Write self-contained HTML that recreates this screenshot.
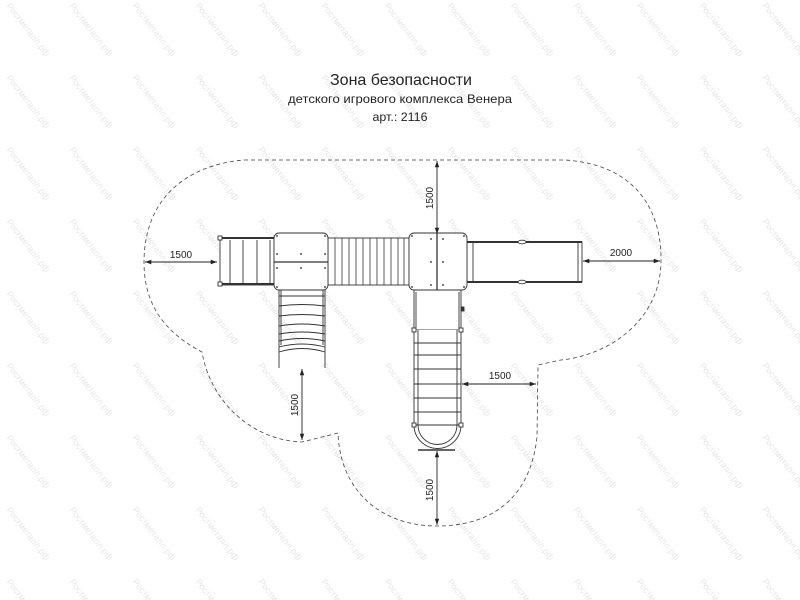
<!DOCTYPE html>
<html><head><meta charset="utf-8"><style>html,body{margin:0;padding:0;background:#fff}svg{display:block}</style></head>
<body>
<svg width="800" height="600" viewBox="0 0 800 600" xmlns="http://www.w3.org/2000/svg" font-family="Liberation Sans, DejaVu Sans, sans-serif">
<defs>
<pattern id="wm" x="0" y="0" width="63" height="72" patternUnits="userSpaceOnUse">
<text x="0" y="0" transform="translate(6,6) rotate(52)" font-size="9" fill="#e6e6e6">Ростметалл.рф</text>
</pattern>
<marker id="a" viewBox="0 0 10 10" refX="10" refY="5" markerWidth="7" markerHeight="7" orient="auto-start-reverse"><path d="M0,1.5 L10,5 L0,8.5 Z" fill="#222"/></marker>
</defs>
<rect width="800" height="600" fill="url(#wm)"/>
<g fill="#222" text-anchor="middle">
<text x="401" y="85" font-size="16" textLength="142" lengthAdjust="spacingAndGlyphs">Зона безопасности</text>
<text x="400" y="103" font-size="12" textLength="224" lengthAdjust="spacingAndGlyphs">детского игрового комплекса Венера</text>
<text x="400" y="121" font-size="12" textLength="55" lengthAdjust="spacingAndGlyphs">арт.: 2116</text>
</g>
<path d="M244,160 L565,160 C640,165 662,215 661,262 C660,320 610,355 561,360 L538,365 L537,437 C530,500 490,526 437,526 C380,526 340,490 338,433 L302,442 C250,440 210,400 202,352 C160,330 144,300 144,262 C144,200 185,165 244,160 Z" fill="none" stroke="#444" stroke-width="0.8" stroke-dasharray="4,3"/>
<g stroke="#333" stroke-width="0.9" fill="#fff">
<rect x="220" y="238" width="54" height="47" fill="#fff"/>
<line x1="220" y1="238" x2="274" y2="238" stroke-width="2"/>
<line x1="220" y1="284" x2="274" y2="284" stroke-width="2"/>
<line x1="230" y1="240" x2="230" y2="283"/><line x1="243" y1="240" x2="243" y2="283"/><line x1="257" y1="240" x2="257" y2="283"/><line x1="270" y1="240" x2="270" y2="283"/>
<rect x="218" y="236" width="4" height="4"/><rect x="218" y="282" width="4" height="4"/>
<rect x="328" y="238" width="81" height="47"/>
<g stroke-width="0.8">
<line x1="335" y1="238" x2="335" y2="285"/><line x1="342" y1="238" x2="342" y2="285"/><line x1="349" y1="238" x2="349" y2="285"/><line x1="356" y1="238" x2="356" y2="285"/><line x1="363" y1="238" x2="363" y2="285"/><line x1="370" y1="238" x2="370" y2="285"/><line x1="377" y1="238" x2="377" y2="285"/><line x1="384" y1="238" x2="384" y2="285"/><line x1="391" y1="238" x2="391" y2="285"/><line x1="398" y1="238" x2="398" y2="285"/><line x1="404" y1="238" x2="404" y2="285"/>
</g>
<rect x="467" y="242" width="115" height="40"/>
<line x1="467" y1="242" x2="582" y2="242" stroke-width="2"/>
<line x1="467" y1="282" x2="582" y2="282" stroke-width="2"/>
<line x1="473" y1="243" x2="473" y2="281"/>
<line x1="578" y1="243" x2="578" y2="281"/>
<ellipse cx="522" cy="242" rx="4" ry="1.8"/><ellipse cx="522" cy="282" rx="4" ry="1.8"/>
<line x1="279" y1="290" x2="279" y2="368"/><line x1="325" y1="290" x2="325" y2="368"/>
<line x1="281" y1="290" x2="281" y2="345"/><line x1="323" y1="290" x2="323" y2="345"/>
<g fill="none">
<path d="M279,296 L325,296"/><path d="M279,306 Q302,303 325,306"/><path d="M279,316 Q302,313 325,316"/><path d="M279,326 Q302,322 325,326"/><path d="M279,334 Q302,330 325,334"/><path d="M279,341 Q302,336 325,341"/><path d="M279,347 Q302,341 325,347"/><path d="M279,352 Q302,345 325,352"/>
</g>
<rect x="414" y="290" width="47" height="40"/>
<line x1="416" y1="292" x2="416" y2="328"/><line x1="459" y1="292" x2="459" y2="328"/>
<rect x="461" y="307" width="3" height="4" fill="#333"/>
<path d="M414,330 L414,425 A23.5,23.5 0 0 0 461,425 L461,330" />
<line x1="418" y1="330" x2="418" y2="425"/><line x1="457" y1="330" x2="457" y2="425"/>
<g><line x1="414" y1="343" x2="461" y2="343"/><line x1="414" y1="355" x2="461" y2="355"/><line x1="414" y1="369" x2="461" y2="369"/><line x1="414" y1="384" x2="461" y2="384"/><line x1="414" y1="398" x2="461" y2="398"/><line x1="414" y1="412" x2="461" y2="412"/><line x1="414" y1="425" x2="461" y2="425"/></g>
<path d="M418,425 A19.5,19.5 0 0 0 457,425" fill="none"/>
<line x1="418" y1="450" x2="455" y2="450" stroke-width="1.5"/>
<rect x="412" y="328" width="4" height="4"/><rect x="459" y="328" width="4" height="4"/>
<rect x="412" y="423" width="4" height="4"/><rect x="459" y="423" width="4" height="4"/>
<rect x="274" y="233" width="54" height="57" rx="5"/>
<line x1="274" y1="262" x2="328" y2="262" stroke-width="1.3"/>
<rect x="409" y="233" width="58" height="57" rx="5"/>
<line x1="437" y1="233" x2="437" y2="290" stroke-width="1.3"/>
</g>
<g fill="#555">
<circle cx="277" cy="236" r="1"/><circle cx="325" cy="236" r="1"/><circle cx="277" cy="254" r="1"/><circle cx="301" cy="254" r="1"/><circle cx="325" cy="254" r="1"/><circle cx="277" cy="268" r="1"/><circle cx="301" cy="268" r="1"/><circle cx="325" cy="268" r="1"/><circle cx="277" cy="287" r="1"/><circle cx="325" cy="287" r="1"/>
<circle cx="412" cy="236" r="1"/><circle cx="431" cy="239" r="1"/><circle cx="443" cy="239" r="1"/><circle cx="464" cy="236" r="1"/><circle cx="431" cy="262" r="1"/><circle cx="443" cy="262" r="1"/><circle cx="412" cy="287" r="1"/><circle cx="431" cy="285" r="1"/><circle cx="443" cy="285" r="1"/><circle cx="464" cy="287" r="1"/>
</g>
<g stroke="#222" stroke-width="0.9" fill="none">
<line x1="145" y1="262" x2="217" y2="262" marker-start="url(#a)" marker-end="url(#a)"/>
<line x1="583" y1="261" x2="660" y2="261" marker-start="url(#a)" marker-end="url(#a)"/>
<line x1="437" y1="161" x2="437" y2="234" marker-start="url(#a)" marker-end="url(#a)"/>
<line x1="437" y1="451" x2="437" y2="525" marker-start="url(#a)" marker-end="url(#a)"/>
<line x1="302" y1="369" x2="302" y2="440" marker-start="url(#a)" marker-end="url(#a)"/>
<line x1="462" y1="384" x2="536" y2="384" marker-start="url(#a)" marker-end="url(#a)"/>
</g>
<g fill="#222" font-size="10" text-anchor="middle">
<text x="181" y="258">1500</text>
<text x="621" y="256">2000</text>
<text x="500" y="379">1500</text>
<text transform="translate(433,198) rotate(-90)">1500</text>
<text transform="translate(298,405) rotate(-90)">1500</text>
<text transform="translate(433,490) rotate(-90)">1500</text>
</g>
</svg>
</body></html>
